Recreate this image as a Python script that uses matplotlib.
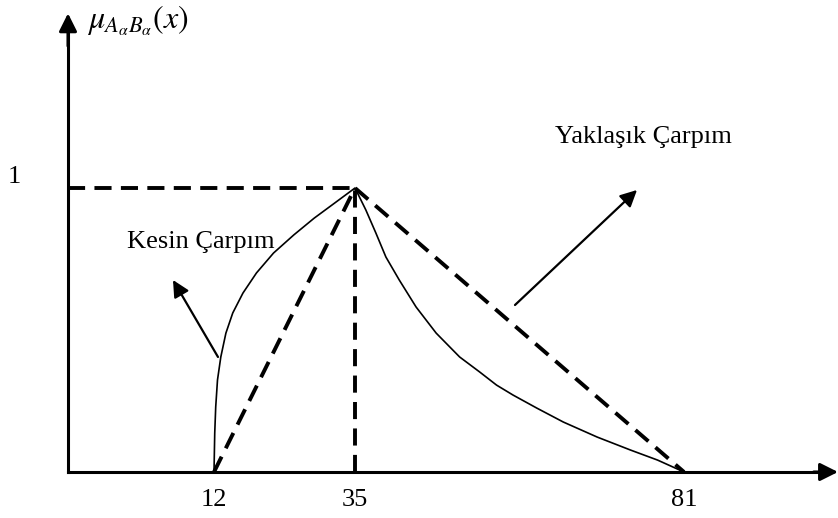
import numpy as np
import matplotlib
matplotlib.use("Agg")
import matplotlib.pyplot as plt

plt.rcParams['font.family'] = ['Liberation Serif', 'DejaVu Serif']
plt.rcParams['mathtext.fontset'] = 'stix'
plt.rcParams['font.size'] = 19

#### Data

# support points of the product
x_ticks = [12, 35, 81]
x_tick_labels = ['12', '35', '81']

# exact product (Kesin Carpim)
kesin_x = [12.0, 12.12, 12.28, 12.57, 13.11, 13.94, 15.06, 16.72, 18.93, 21.71, 25.03, 28.35, 31.68,
           35.0, 36.51, 37.91, 39.32, 41.19, 43.54, 46.35, 49.63, 52.44, 54.79, 57.09, 60.42,
           64.12, 68.86, 73.55, 77.30, 81.0]
kesin_mu = [0.0, 0.137, 0.229, 0.324, 0.405, 0.489, 0.560, 0.630, 0.701, 0.771, 0.835, 0.894, 0.947,
            1.0, 0.923, 0.842, 0.757, 0.676, 0.581, 0.489, 0.405, 0.352, 0.306, 0.271, 0.225,
            0.176, 0.123, 0.077, 0.042, 0.0]

# approximate product (Yaklasik Carpim) -> triangle
yaklasik_x = [12, 35, 81]
yaklasik_mu = [0, 1, 0]

#### Plot

# the drawing is a sketch, so the x axis is not to scale
knot_vals = np.array([-5.59, 0, 12, 35, 81, 100])
knot_pix = np.array([0, 68, 214, 355, 684, 838])

def fwd(v):
    return np.interp(v, knot_vals, knot_pix)

def inv(p):
    return np.interp(p, knot_pix, knot_vals)

fig = plt.figure(figsize=(8.38, 5.18), dpi=100)
ax = fig.add_axes([0, 0, 1, 1])
ax.set_xscale('function', functions=(fwd, inv))
ax.set_xlim(-5.59, 100)
ax.set_ylim(-0.162, 1.662)

# axes through the origin
for side in ['top', 'right']:
    ax.spines[side].set_visible(False)
ax.spines['bottom'].set_position(('data', 0))
ax.spines['left'].set_position(('data', 0))
ax.spines['bottom'].set_bounds(0, 99)
ax.spines['left'].set_bounds(0, 1.58)
ax.spines['bottom'].set_linewidth(2.2)
ax.spines['left'].set_linewidth(2.2)

ax.set_xticks(x_ticks)
ax.set_xticklabels(x_tick_labels)
ax.tick_params(axis='x', length=0, pad=12)
ax.set_yticks([1])
ax.set_yticklabels(['1'])
ax.tick_params(axis='y', length=0, pad=34)
for lbl in ax.get_yticklabels():
    lbl.set_va('bottom')

# arrow heads of the axes
head = dict(arrowstyle='-|>,head_length=0.4,head_width=0.2', mutation_scale=27,
            lw=2.2, color='k', shrinkA=0, shrinkB=0)
ax.annotate('', xy=(0, 1.615), xytext=(0, 1.5), arrowprops=head, annotation_clip=False)
ax.annotate('', xy=(100, 0), xytext=(97, 0), arrowprops=head, annotation_clip=False)

fig.text(87 / 838, 1 - 29 / 518, r'$\mu_{A_{\alpha}B_{\alpha}}(x)$', fontsize=23,
         va='baseline', ha='left')

# dashed: approximate product and the guide lines at the peak
dash = dict(color='k', lw=2.8, dashes=(4.4, 2.4))
ax.plot(yaklasik_x, yaklasik_mu, **dash)
peak_x = yaklasik_x[1]
peak_mu = yaklasik_mu[1]
ax.plot([peak_x, peak_x], [0, peak_mu], **dash)
ax.plot([0, peak_x], [peak_mu, peak_mu], **dash)

# solid: exact product
ax.plot(kesin_x, kesin_mu, color='k', lw=1.2, solid_joinstyle='round')

# labels with arrows
arr = dict(arrowstyle='-|>,head_length=0.4,head_width=0.2', mutation_scale=25,
           lw=1.6, color='k', shrinkA=0, shrinkB=0)
ax.annotate('', xy=(8.63, 0.676), xytext=(12.65, 0.405), arrowprops=arr)
ax.annotate('', xy=(74.43, 0.993), xytext=(57.37, 0.588), arrowprops=arr)
ax.text(10.93, 0.81, 'Kesin Çarpım', ha='center', va='center')
ax.text(75.26, 1.18, 'Yaklaşık Çarpım', ha='center', va='center')

fig.savefig('out.png', dpi=100)
